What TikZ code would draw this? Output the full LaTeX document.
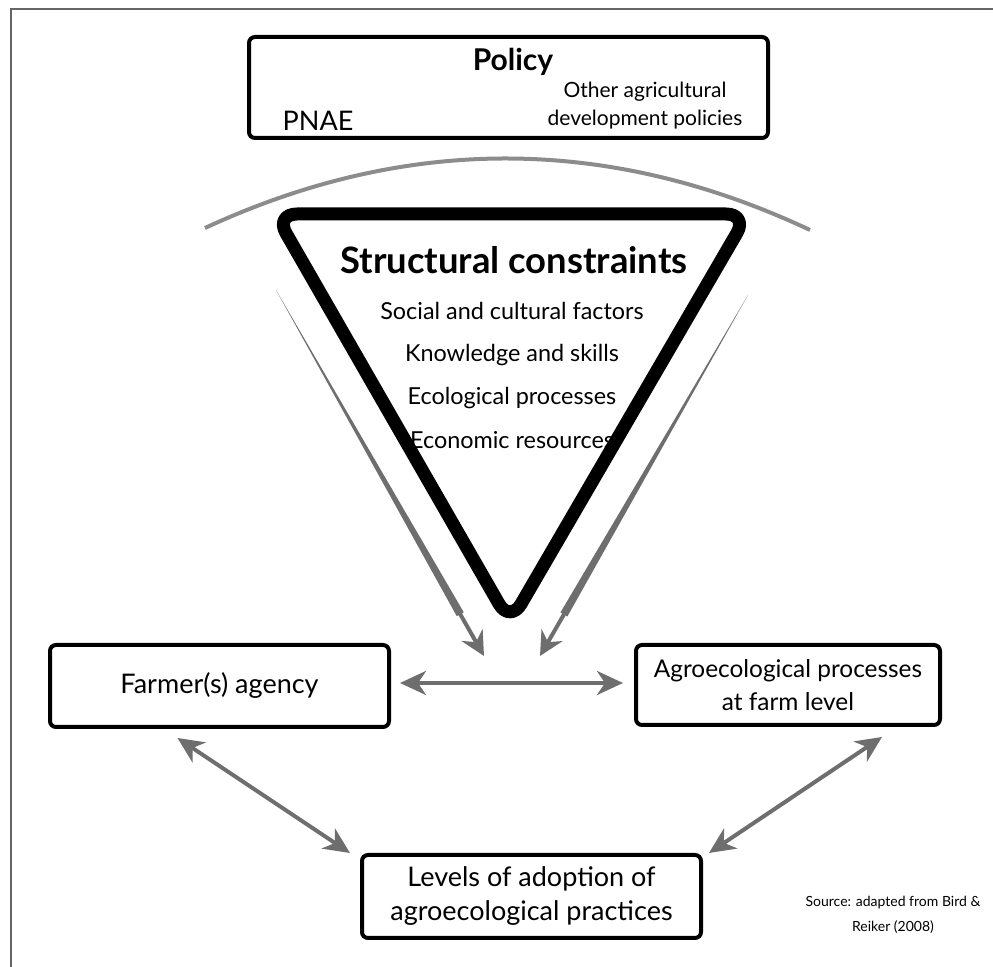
\documentclass[tikz,border=0pt]{standalone}
\usepackage{fontspec}
\setmainfont{Lato}
\usetikzlibrary{arrows.meta, positioning, calc}
\definecolor{arrgray}{HTML}{6E6E6E}
\definecolor{arcgray}{HTML}{8C8C8C}
\definecolor{framegray}{HTML}{666666}

\begin{document}
\begin{tikzpicture}
        [
            x=0.5pt, y=-0.5pt,
            box/.style={rectangle, draw=black, line width=2pt, rounded corners=3pt, align=center, inner sep=0pt, font=\fontsize{13.5}{17}\selectfont},
            arr/.style={draw=arrgray, line width=2pt, {Stealth[length=13pt, width=12pt, inset=4pt]}-{Stealth[length=13pt, width=12pt, inset=4pt]}},
            txt/.style={font=\fontsize{11.7}{14}\selectfont},
        ]
        \useasboundingbox (0,0) rectangle (993,967);
        \draw[framegray, line width=1pt] (11,967) -- (11,9) -- (993,9);

        % policy box
        \node[box, minimum width=259.5pt, minimum height=50.5pt] (policy) at (508.5,87.5) {};
        \node[font=\fontsize{15}{18}\selectfont\bfseries] (policytitle) at (513,62) {Policy};
        \node[font=\fontsize{13.5}{17}\selectfont] (pnae) at (318,121) {PNAE};
        \node[align=center, font=\fontsize{10.5}{14}\selectfont] (other) at (645,106) {Other agricultural\\development policies};

        % arc and triangle
        \draw[arcgray, line width=2pt] (205,228) .. controls (406,135) and (608,135) .. (810,230);
        \draw[line width=6.5pt, rounded corners=11pt, line join=round] (275,214) -- (748,214) -- (510,623) -- cycle;
        \node[font=\fontsize{18.2}{22}\selectfont\bfseries] (constraints) at (514,260) {Structural constraints};
        \foreach \y/\t in {311/Social and cultural factors, 355/Knowledge and skills, 398/Ecological processes, 440/Economic resources}
            \node[txt] at (512,\y) {\t};

        % tapered arrows
        \coordinate (ls) at (276,290);
        \coordinate (lt) at (484,656);
        \coordinate (rs) at (748,295);
        \coordinate (rt) at (540,656);
        \fill[arrgray] (ls) -- ($(lt)!24pt!(ls)!2pt!90:(lt)$) -- ($(lt)!24pt!(ls)!2pt!-90:(lt)$) -- cycle;
        \fill[arrgray] (rs) -- ($(rt)!24pt!(rs)!2pt!90:(rt)$) -- ($(rt)!24pt!(rs)!2pt!-90:(rt)$) -- cycle;
        \draw[arrgray, line width=2pt, -{Stealth[length=12pt, width=12pt, inset=4pt]}] ($(lt)!26pt!(ls)$) -- (lt);
        \draw[arrgray, line width=2pt, -{Stealth[length=12pt, width=12pt, inset=4pt]}] ($(rt)!26pt!(rs)$) -- (rt);

        % boxes
        \node[box, minimum width=169.5pt, minimum height=41pt] (farmer) at (219.5,686) {Farmer(s) agency};
        \node[box, minimum width=152pt, minimum height=40pt, font=\fontsize{12.2}{16.5}\selectfont] (agro) at (788,685) {Agroecological processes\\at farm level};
        \node[box, minimum width=169.5pt, minimum height=41.5pt] (levels) at (531.5,896.5) {Levels of adoption of\\agroecological practices};
        \node[align=center, font=\fontsize{7}{12.5}\selectfont] (source) at (893,915) {Source: adapted from Bird \&\\Reiker (2008)};

        % connectors
        \draw[arr] ($(farmer.east)+(9,-3)$) -- ($(agro.west)+(-11,-2)$);
        \draw[arr] ($(farmer.south)+(-42,9)$) -- ($(levels.north west)+(-10,0)$);
        \draw[arr] ($(agro.south)+(94,10)$) -- ($(levels.north east)+(6,0)$);
      \end{tikzpicture}
\end{document}
